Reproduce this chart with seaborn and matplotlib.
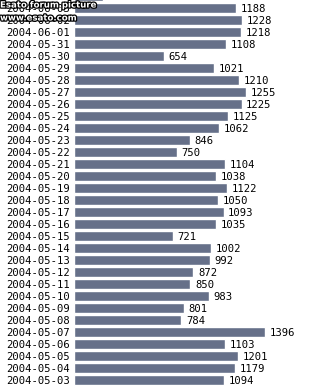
import matplotlib
matplotlib.use("Agg")
import matplotlib.pyplot as plt
import matplotlib.patheffects as pe
import seaborn as sns
import pandas as pd

dates = ["2004-06-04", "2004-06-03", "2004-06-02", "2004-06-01", "2004-05-31",
         "2004-05-30", "2004-05-29", "2004-05-28", "2004-05-27", "2004-05-26",
         "2004-05-25", "2004-05-24", "2004-05-23", "2004-05-22", "2004-05-21",
         "2004-05-20", "2004-05-19", "2004-05-18", "2004-05-17", "2004-05-16",
         "2004-05-15", "2004-05-14", "2004-05-13", "2004-05-12", "2004-05-11",
         "2004-05-10", "2004-05-09", "2004-05-08", "2004-05-07", "2004-05-06",
         "2004-05-05", "2004-05-04", "2004-05-03", "2004-05-02"]
values = [210, 1188, 1228, 1218, 1108,
          654, 1021, 1210, 1255, 1225,
          1125, 1062, 846, 750, 1104,
          1038, 1122, 1050, 1093, 1035,
          721, 1002, 992, 872, 850,
          983, 801, 784, 1396, 1103,
          1201, 1179, 1094, 831]
watermark = ["Esato forum picture", "www.esato.com"]

df = pd.DataFrame({"date": dates, "value": values})

sns.set_style("white")
plt.rcParams["font.family"] = ["DejaVu Sans Mono", "DejaVu Sans"]

fig = plt.figure(figsize=(3.09, 3.88), dpi=100)
ax = fig.add_axes([0, 0, 1, 1])
bar_color = "#667089"
sns.barplot(data=df, x="value", y="date", orient="h", color=bar_color,
            saturation=1, width=0.83, ax=ax)

ax.set_xlim(-546, 1720)
ax.set_ylim(32.69, 0.36)
ax.axis("off")

for i, (d, v) in enumerate(zip(dates, values)):
    ax.annotate(d, xy=(0, i), xytext=(-3.2, 0), textcoords="offset points",
                ha="right", va="center_baseline", fontsize=7.6, color="black")
    ax.annotate(str(v), xy=(v, i), xytext=(3.4, 0), textcoords="offset points",
                ha="left", va="center_baseline", fontsize=7.6, color="black")

stroke = [pe.withStroke(linewidth=1.8, foreground="black")]
fig.text(0.0, 1 - 5 / 388, watermark[0], ha="left", va="center", fontsize=6.2,
         fontweight="bold", family="DejaVu Sans", color="white", path_effects=stroke)
fig.text(0.0, 1 - 18 / 388, watermark[1], ha="left", va="center", fontsize=6.2,
         fontweight="bold", family="DejaVu Sans", color="white", path_effects=stroke)

fig.savefig("out.png", dpi=100, facecolor="white")
